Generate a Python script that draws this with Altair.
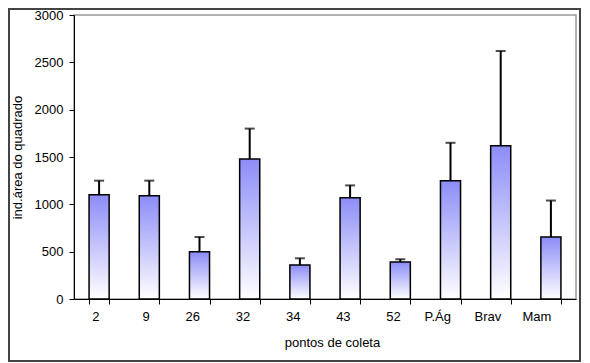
import altair as alt
import pandas as pd

categories = ["2", "9", "26", "32", "34", "43", "52", "P.Ág", "Brav", "Mam"]
means = [1100, 1090, 500, 1480, 360, 1070, 390, 1250, 1620, 655]
upper = [1250, 1250, 655, 1800, 430, 1200, 420, 1650, 2620, 1040]

df = pd.DataFrame({"cat": categories, "mean": means, "upper": upper})

W, H = 502, 284
font = "Liberation Sans"

x = alt.X("cat:N", sort=categories, title="pontos de coleta",
          scale=alt.Scale(paddingInner=0.6, paddingOuter=0.3),
          axis=alt.Axis(labelAngle=0, labelFontSize=13, titleFontSize=13,
                        labelFont=font, titleFont=font, labelColor="black",
                        titleColor="black", titleFontWeight="normal",
                        domainColor="black", tickColor="black", tickBand="extent",
                        tickSize=5, labelPadding=12, titlePadding=13,
                        titleX=W / 2 + 7))
y = alt.Y("mean:Q", title="ind.área do quadrado",
          scale=alt.Scale(domain=[0, 3000]),
          axis=alt.Axis(values=[0, 500, 1000, 1500, 2000, 2500, 3000], grid=False,
                        format="d",
                        labelFontSize=13, titleFontSize=13, labelFont=font,
                        titleFont=font, labelColor="black", titleColor="black",
                        titleFontWeight="normal", domainColor="black",
                        tickColor="black", tickSize=5, labelPadding=6,
                        titlePadding=10))

grad = {"gradient": "linear", "x1": 0, "y1": 0, "x2": 0, "y2": 1,
        "stops": [{"offset": 0, "color": "#8c8cf8"},
                  {"offset": 1, "color": "#ffffff"}]}

bars = alt.Chart(df).mark_bar(color=grad, stroke="black", strokeWidth=1.5).encode(x=x, y=y)

err = alt.Chart(df).mark_rule(color="black", strokeWidth=2).encode(
    x=alt.X("cat:N", sort=categories), y="mean:Q", y2="upper:Q")
caps = alt.Chart(df).mark_tick(color="black", thickness=2, size=10, orient="horizontal").encode(
    x=alt.X("cat:N", sort=categories), y="upper:Q")

frame = alt.Chart(df).mark_rect(fill=None, stroke="#444444", strokeWidth=1.5).encode(
    x=alt.value(-65), x2=alt.value(W + 4), y=alt.value(-6), y2=alt.value(H + 62))

chart = alt.layer(err, caps, bars, frame).properties(
    width=W, height=H,
    autosize=alt.AutoSizeParams(type="none"),
    padding={"left": 66, "top": 7, "right": 5, "bottom": 64},
).configure_view(stroke="#999999", strokeWidth=1.5)

chart.save("out.html", embed_options={"renderer": "svg", "actions": False})
